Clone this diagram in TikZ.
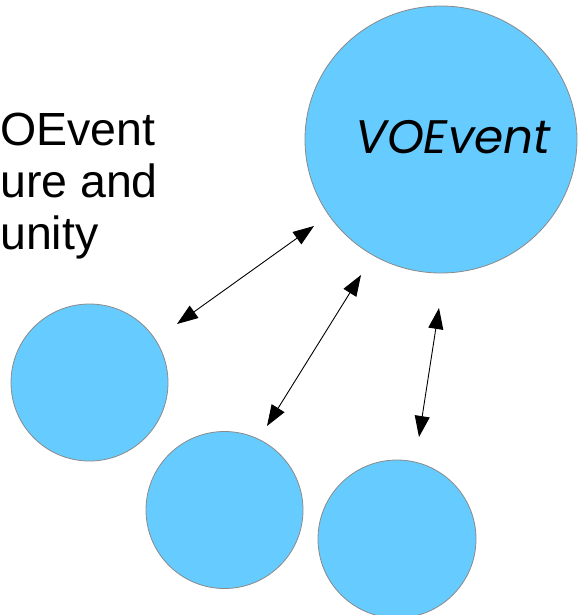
\documentclass[tikz,border=0pt]{standalone}
\usepackage{fontspec}
\setmainfont{Liberation Sans}
\newfontfamily\vofont{Poppins}
\usetikzlibrary{shapes.geometric,arrows.meta}
\definecolor{blobblue}{HTML}{66CCFF}
\definecolor{blobedge}{HTML}{8A8A8A}
\tikzset{
  blob/.style={circle, fill=blobblue, draw=blobedge, line width=0.8pt, inner sep=0pt},
  bigblob/.style={ellipse, fill=blobblue, draw=blobedge, line width=0.8pt, inner sep=0pt},
  twoway/.style={line width=0.9pt, {Triangle[length=21pt,width=15pt]}-{Triangle[length=21pt,width=15pt]}},
  sidetext/.style={anchor=base west, inner sep=0pt, font=\fontsize{46.5}{53}\selectfont}
}
\begin{document}
\begin{tikzpicture}[x=1pt,y=-1pt]
\useasboundingbox (0,0) rectangle (580,615);
\begin{scope}
\clip (0,0) rectangle (580,615);
% text at the left edge
\node[sidetext] (t1) at (0,145) {OEvent};
\node[sidetext] (t2) at (0,197) {ure and};
\node[sidetext] (t3) at (0,249) {unity};
% circles
\node[bigblob, minimum width=272pt, minimum height=267pt] (vo) at (441,139.5) {};
\node[anchor=base, inner sep=0pt, font=\vofont\itshape\fontsize{47}{55}\selectfont] (vol) at (453,153) {VOEvent};
\node[blob, minimum size=157pt] (c1) at (89.5,382.5) {};
\node[blob, minimum size=157pt] (c2) at (224.5,510) {};
\node[blob, minimum size=158pt] (c3) at (397,539) {};
% arrow end points
\coordinate (a1s) at (177,324);
\coordinate (a1e) at (314,226);
\coordinate (a2s) at (267,426);
\coordinate (a2e) at (361,275);
\coordinate (a3s) at (419,437);
\coordinate (a3e) at (439,308);
\draw[twoway] (a1s) -- (a1e);
\draw[twoway] (a2s) -- (a2e);
\draw[twoway] (a3s) -- (a3e);
\end{scope}
\end{tikzpicture}
\end{document}
